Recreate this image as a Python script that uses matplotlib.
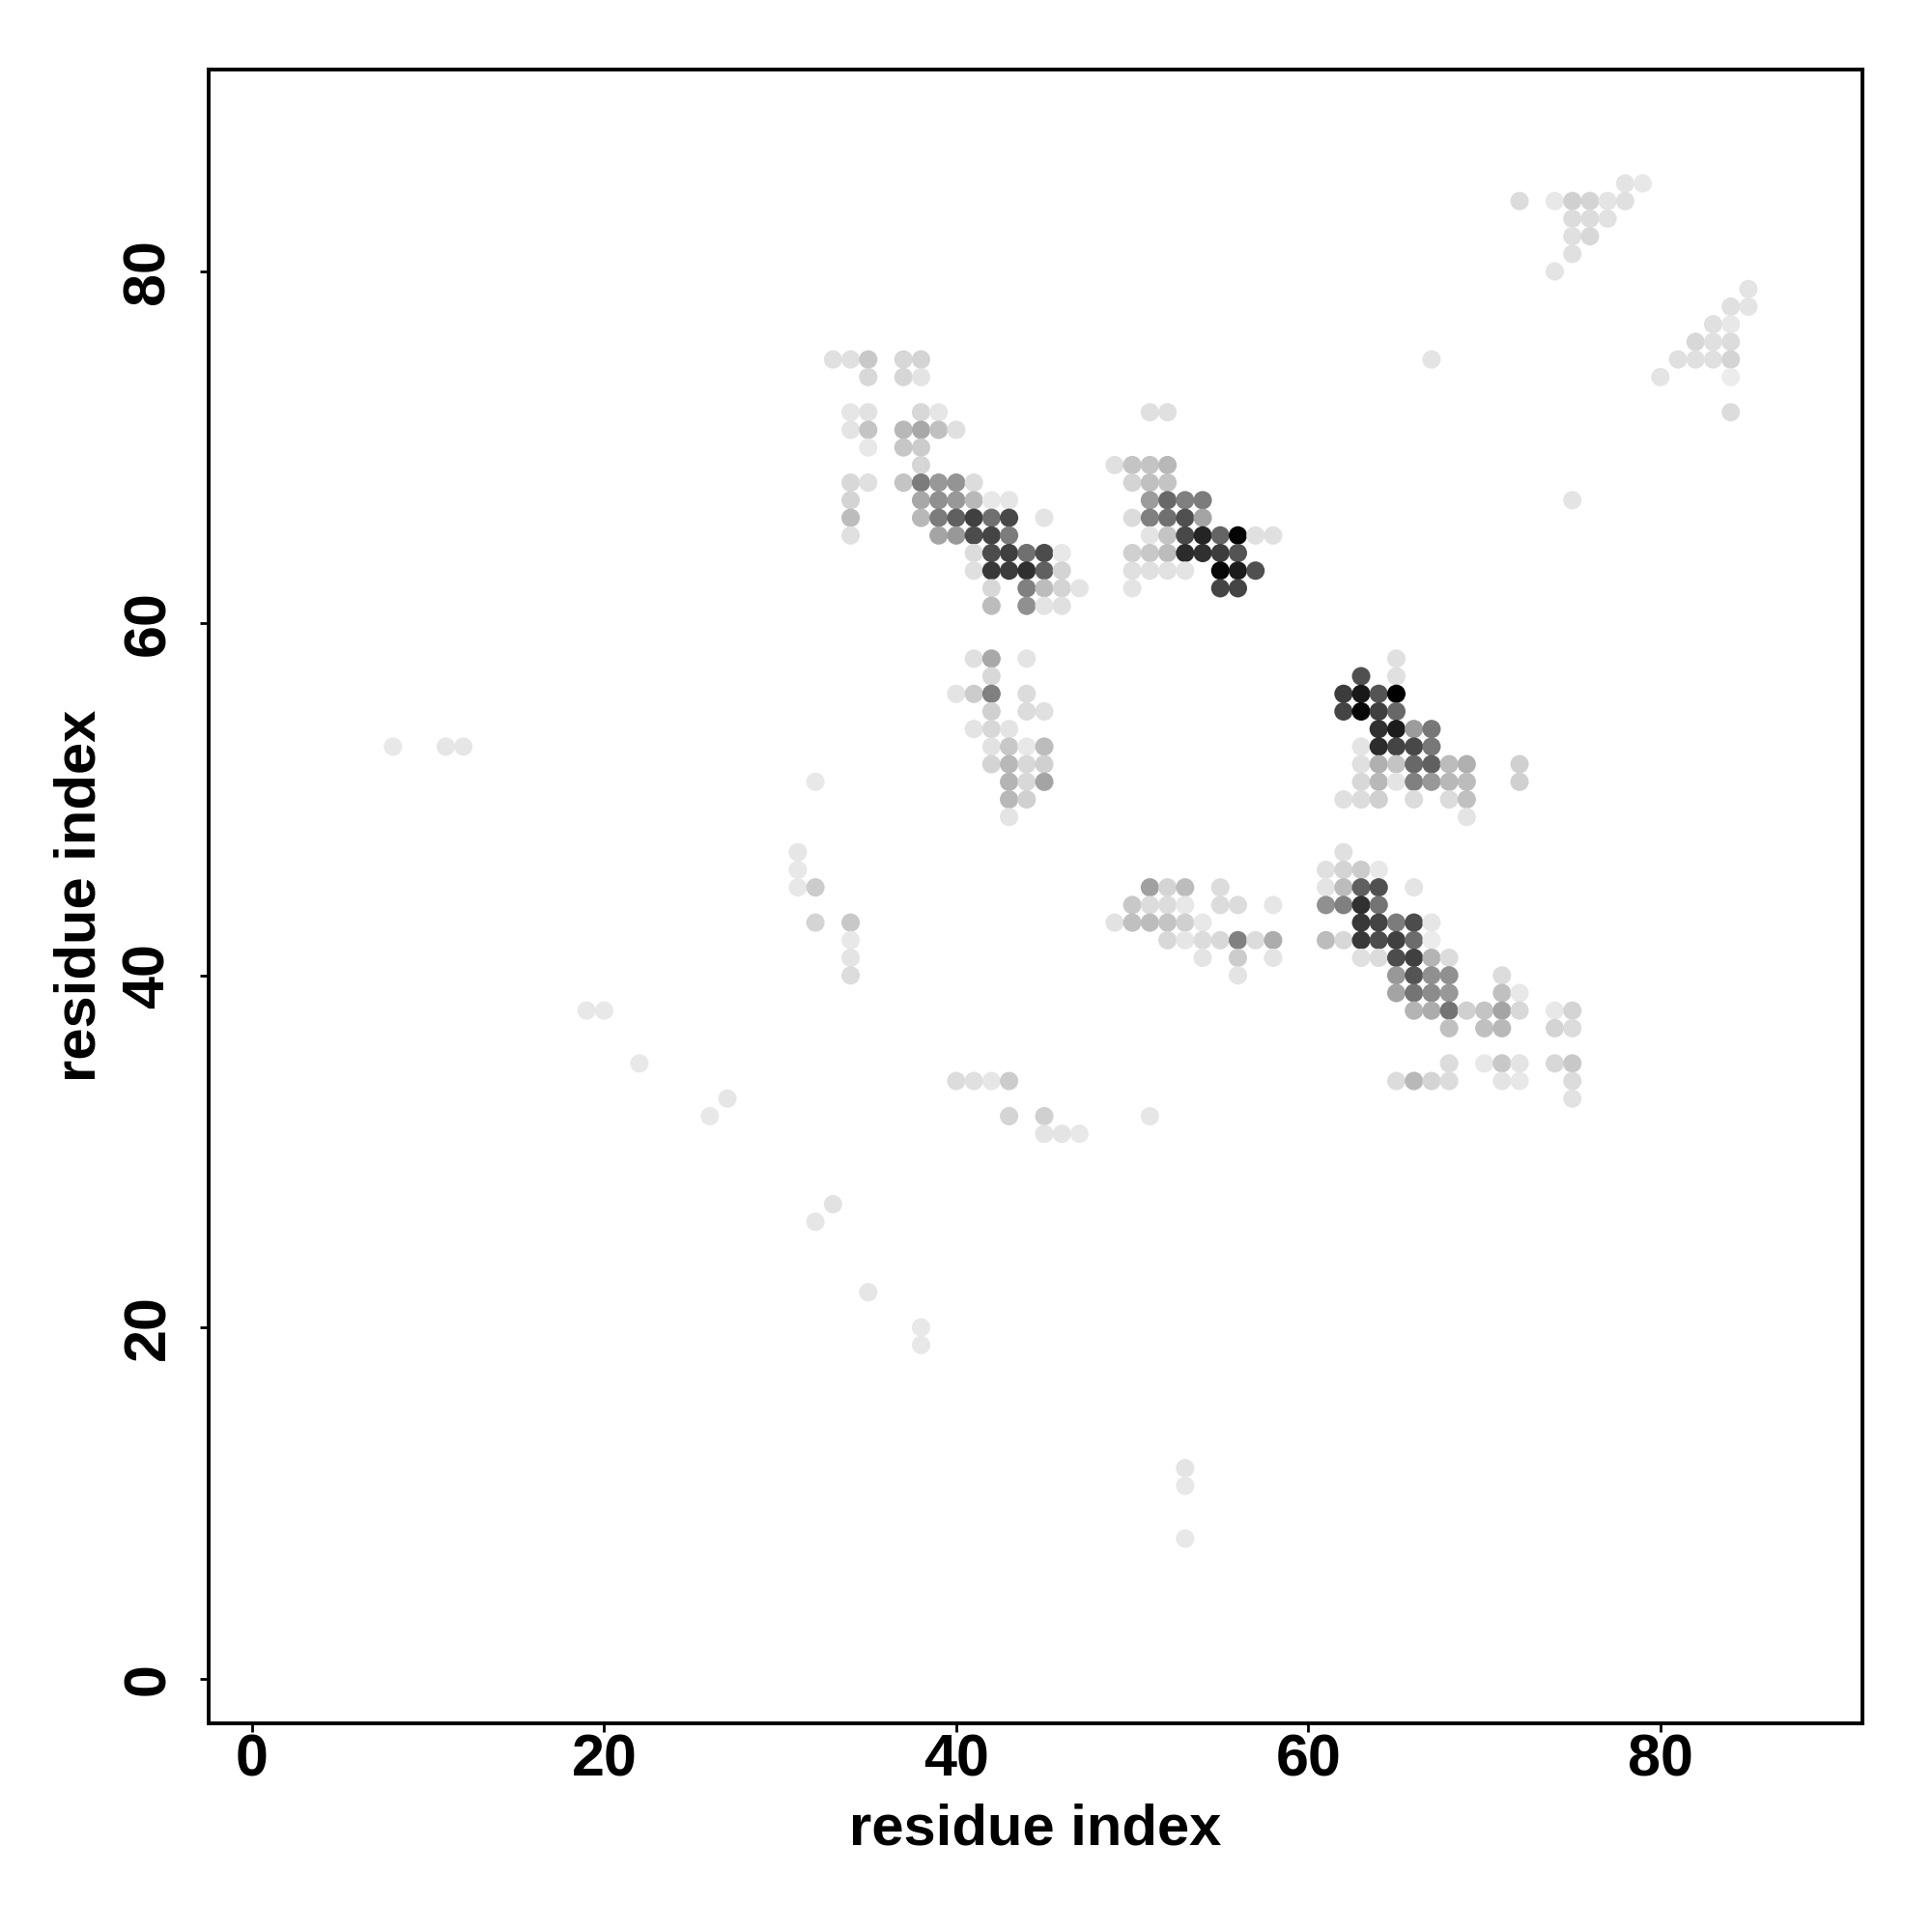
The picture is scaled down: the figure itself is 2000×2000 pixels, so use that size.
import matplotlib
matplotlib.use('Agg')
import matplotlib.pyplot as plt

plt.rcParams['font.family'] = ['Liberation Sans', 'DejaVu Sans']
plt.rcParams['font.weight'] = 'bold'

# contact map: one entry per row of the map, gray level 0 (black) to 255 (white)
row_y = [85, 84, 83, 82, 81, 80, 79, 78, 77, 76, 75, 74, 72, 71, 70, 69, 68, 67, 66, 65,
         64, 63, 62, 61, 58, 57, 56, 55, 54, 53, 52, 51, 50, 49, 47, 46, 45, 44, 43, 42,
         41, 40, 39, 38, 37, 35, 34, 33, 32, 31, 27, 26, 22, 20, 19, 12, 11, 8]

row_x = [
    [78, 79],
    [72, 74, 75, 76, 77, 78],
    [75, 76, 77],
    [75, 76],
    [75],
    [74],
    [85],
    [84, 85],
    [83, 84],
    [82, 83, 84],
    [33, 34, 35, 37, 38, 67, 81, 82, 83, 84],
    [35, 37, 38, 80, 84],
    [34, 35, 38, 39, 51, 52, 84],
    [34, 35, 37, 38, 39, 40],
    [35, 37, 38],
    [38, 49, 50, 51, 52],
    [34, 35, 37, 38, 39, 40, 41, 50, 51, 52],
    [34, 38, 39, 40, 41, 42, 43, 51, 52, 53, 54, 75],
    [34, 38, 39, 40, 41, 42, 43, 45, 50, 51, 52, 53, 54],
    [34, 39, 40, 41, 42, 43, 51, 52, 53, 54, 55, 56, 57, 58],
    [41, 42, 43, 44, 45, 46, 50, 51, 52, 53, 54, 55, 56],
    [41, 42, 43, 44, 45, 46, 50, 51, 52, 53, 55, 56, 57],
    [42, 44, 45, 46, 47, 50, 55, 56],
    [42, 44, 45, 46],
    [41, 42, 44, 65],
    [42, 63, 65],
    [40, 41, 42, 44, 62, 63, 64, 65],
    [42, 44, 45, 62, 63, 64, 65],
    [41, 42, 43, 64, 65, 66, 67],
    [8, 11, 12, 42, 43, 44, 45, 63, 64, 65, 66, 67],
    [42, 43, 44, 45, 63, 64, 65, 66, 67, 68, 69, 72],
    [32, 43, 44, 45, 63, 64, 65, 66, 67, 68, 69, 72],
    [43, 44, 62, 63, 64, 66, 68, 69],
    [43, 69],
    [31, 62],
    [31, 61, 62, 63, 64],
    [31, 32, 51, 52, 53, 55, 61, 62, 63, 64, 66],
    [50, 51, 52, 53, 55, 56, 58, 61, 62, 63, 64],
    [32, 34, 49, 50, 51, 52, 53, 54, 63, 64, 65, 66, 67],
    [34, 52, 53, 54, 55, 56, 57, 58, 61, 62, 63, 64, 65, 66, 67],
    [34, 54, 56, 58, 63, 64, 65, 66, 67, 68],
    [34, 56, 65, 66, 67, 68, 71],
    [65, 66, 67, 68, 71, 72],
    [19, 20, 66, 67, 68, 69, 70, 71, 72, 74, 75],
    [68, 70, 71, 74, 75],
    [22, 68, 70, 71, 72, 74, 75],
    [40, 41, 42, 43, 65, 66, 67, 68, 71, 72, 75],
    [27, 75],
    [26, 43, 45, 51],
    [45, 46, 47],
    [33],
    [32],
    [35],
    [38],
    [38],
    [53],
    [53],
    [53],
]

row_gray = [
    [0xe4, 0xe8],
    [0xdc, 0xe8, 0xd0, 0xd4, 0xe4, 0xe0],
    [0xdc, 0xdc, 0xe2],
    [0xe0, 0xd8],
    [0xe0],
    [0xe4],
    [0xe4],
    [0xe0, 0xe4],
    [0xe0, 0xe8],
    [0xd8, 0xe0, 0xdc],
    [0xe0, 0xe0, 0xc8, 0xd8, 0xd4, 0xe4, 0xe0, 0xe0, 0xe0, 0xd4],
    [0xd8, 0xd6, 0xe4, 0xe4, 0xec],
    [0xe6, 0xe2, 0xd8, 0xe6, 0xe0, 0xe0, 0xdc],
    [0xe4, 0xc4, 0xb8, 0xa8, 0xc0, 0xe0],
    [0xe8, 0xc6, 0xcc],
    [0xd6, 0xe0, 0xc4, 0xc4, 0xb8],
    [0xd8, 0xe0, 0xc4, 0x7c, 0x98, 0x94, 0xdc, 0xd4, 0xc0, 0xc4],
    [0xd4, 0xa8, 0x90, 0x98, 0xb8, 0xe8, 0xe6, 0x9c, 0x68, 0x80, 0x7c, 0xe4],
    [0xbc, 0xb8, 0x7c, 0x60, 0x40, 0x70, 0x48, 0xe4, 0xdc, 0x80, 0x70, 0x50, 0xa4],
    [0xe0, 0xa4, 0x98, 0x4c, 0x44, 0x7c, 0xe4, 0xc4, 0x48, 0x24, 0x64, 0x04, 0xe0, 0xe0],
    [0xdc, 0x4c, 0x40, 0x70, 0x4c, 0xe8, 0xd0, 0xc8, 0xbc, 0x2c, 0x30, 0x3c, 0x54],
    [0xe0, 0x38, 0x3c, 0x30, 0x60, 0xd4, 0xe0, 0xe0, 0xe2, 0xe4, 0x08, 0x1c, 0x50],
    [0xd8, 0x80, 0xbc, 0xd4, 0xe4, 0xe4, 0x44, 0x44],
    [0xbc, 0x90, 0xe4, 0xe0],
    [0xe0, 0xa8, 0xe4, 0xe0],
    [0xd8, 0x50, 0xe0],
    [0xe4, 0xcc, 0x80, 0xdc, 0x3c, 0x18, 0x54, 0x00],
    [0xd0, 0xdc, 0xe0, 0x44, 0x08, 0x40, 0x68],
    [0xe4, 0xd8, 0xe4, 0x30, 0x1c, 0x9c, 0x78],
    [0xe8, 0xe6, 0xe6, 0xe2, 0xc8, 0xe8, 0xbc, 0xe4, 0x2c, 0x44, 0x48, 0x78],
    [0xd4, 0xb8, 0xd8, 0xd0, 0xe0, 0xb0, 0xc4, 0x68, 0x60, 0xbc, 0xb0, 0xd0],
    [0xe8, 0xb4, 0xd8, 0xa4, 0xd8, 0xb8, 0xe4, 0x80, 0x98, 0xb8, 0xbc, 0xd0],
    [0xb8, 0xd0, 0xe0, 0xdc, 0xd0, 0xdc, 0xdc, 0xc0],
    [0xe4, 0xe4],
    [0xe6, 0xe0],
    [0xe8, 0xe0, 0xd4, 0xcc, 0xe8],
    [0xe8, 0xcc, 0xa0, 0xd4, 0xbc, 0xdc, 0xe4, 0xbc, 0x60, 0x50, 0xe4],
    [0xc8, 0xdc, 0xdc, 0xe8, 0xdc, 0xdc, 0xe6, 0x90, 0x80, 0x30, 0x74],
    [0xd4, 0xc8, 0xe2, 0xc0, 0xbc, 0xc4, 0xd0, 0xe8, 0x38, 0x44, 0x7c, 0x4c, 0xe6],
    [0xe8, 0xd8, 0xe6, 0xdc, 0xd8, 0x80, 0xdc, 0xac, 0xbc, 0xd8, 0x38, 0x4c, 0x40, 0x6c, 0xec],
    [0xe4, 0xe4, 0xcc, 0xe4, 0xe0, 0xdc, 0x4c, 0x40, 0xb4, 0xdc],
    [0xdc, 0xe4, 0x98, 0x54, 0x90, 0x90, 0xdc],
    [0xa4, 0x74, 0x8c, 0x98, 0xc0, 0xe8],
    [0xe8, 0xe8, 0xb4, 0xac, 0x74, 0xd0, 0xc4, 0xa4, 0xd8, 0xe8, 0xd4],
    [0xc0, 0xc0, 0xb8, 0xd4, 0xdc],
    [0xe8, 0xdc, 0xe8, 0xc8, 0xe4, 0xd8, 0xc8],
    [0xdc, 0xe0, 0xe6, 0xcc, 0xdc, 0xb8, 0xd4, 0xdc, 0xe4, 0xe8, 0xdc],
    [0xe6, 0xe2],
    [0xe8, 0xd4, 0xd0, 0xe6],
    [0xe4, 0xe4, 0xe8],
    [0xe2],
    [0xe6],
    [0xe6],
    [0xe8],
    [0xe8],
    [0xe4],
    [0xe8],
    [0xe8],
]

ticks = [0, 20, 40, 60, 80]

# flatten rows into points
xs, ys, grays = [], [], []
for y, cols, levels in zip(row_y, row_x, row_gray):
    for x, g in zip(cols, levels):
        xs.append(x)
        ys.append(y)
        grays.append(g)

fig = plt.figure(figsize=(10, 10), dpi=200)
ax = fig.add_axes([216 / 2000, 1 - 1784 / 2000, (1928 - 216) / 2000, (1784 - 71.5) / 2000])

ax.scatter(xs, ys, c=grays, cmap='gray', vmin=0, vmax=255, s=47, linewidths=0)

ax.set_xlim(-2.47, 91.48)
ax.set_ylim(-2.5, 91.5)

ax.set_xticks(ticks)
ax.set_yticks(ticks)
ax.tick_params(axis='both', length=3.4, width=1.0, labelsize=22)
ax.tick_params(axis='x', pad=0.5)
ax.tick_params(axis='y', pad=8.5)
for lab in ax.get_yticklabels():
    lab.set_rotation(90)
    lab.set_va('center')

for spine in ax.spines.values():
    spine.set_linewidth(1.4)

ax.set_xlabel('residue index', fontsize=21.5, fontweight='bold')
ax.set_ylabel('residue index', fontsize=21.5, fontweight='bold')
ax.xaxis.set_label_coords(0.5, -0.048)
ax.yaxis.set_label_coords(-0.0614, 0.5)

fig.savefig('out.png', dpi=200)
